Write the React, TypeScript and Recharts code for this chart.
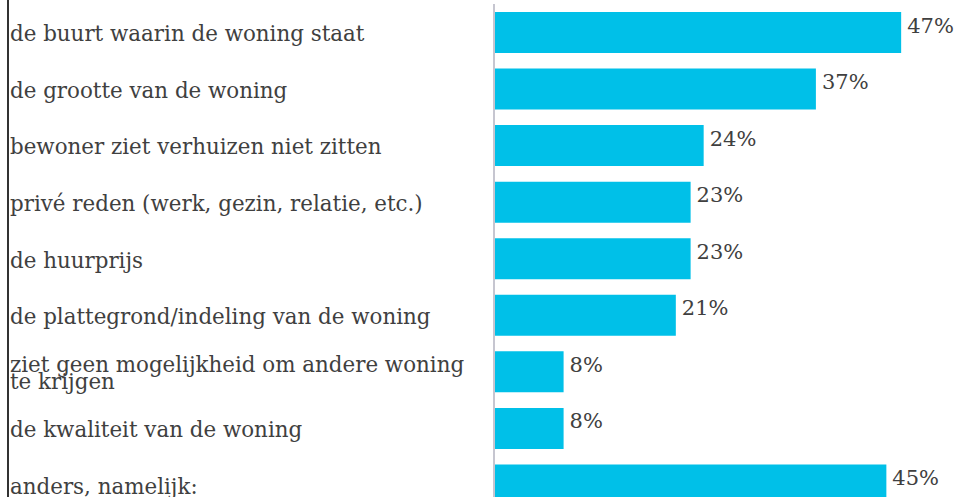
import React from "react";
import { BarChart, Bar, XAxis, YAxis, LabelList } from "recharts";

const BAR_COLOR = "#00c0e8";
const TEXT_COLOR = "#404040";
const FONT = "'DejaVu Serif', serif";

const categories = [
  "de buurt waarin de woning staat",
  "de grootte van de woning",
  "bewoner ziet verhuizen niet zitten",
  "privé reden (werk, gezin, relatie, etc.)",
  "de huurprijs",
  "de plattegrond/indeling van de woning",
  "ziet geen mogelijkheid om andere woning te krijgen",
  "de kwaliteit van de woning",
  "anders, namelijk:",
];

// percentages (labels show them rounded)
const shares = [46.8, 37, 24.1, 22.6, 22.6, 20.9, 8, 8, 45.1];

const data = categories.map((name, i) => ({ name, value: shares[i] }));

function wrapLabel(text: string, maxChars = 40) {
  const words = text.split(" ");
  const lines: string[] = [];
  let cur = "";
  for (const w of words) {
    const next = cur ? cur + " " + w : w;
    if (next.length > maxChars && cur) {
      lines.push(cur);
      cur = w;
    } else {
      cur = next;
    }
  }
  if (cur) lines.push(cur);
  return lines;
}

function CategoryTick(props: any) {
  const { y, payload } = props;
  const lines = wrapLabel(String(payload.value));
  const lh = 17;
  const first = y + 9 - ((lines.length - 1) * lh) / 2;
  return (
    <text
      x={10}
      y={first}
      fill={TEXT_COLOR}
      fontSize={21.4}
      fontFamily={FONT}
      textAnchor="start"
    >
      {lines.map((l, i) => (
        <tspan key={i} x={10} dy={i === 0 ? 0 : lh}>
          {l}
        </tspan>
      ))}
    </text>
  );
}

function ValueLabel(props: any) {
  const { x, y, width, height, value } = props;
  return (
    <text
      x={x + width + 6}
      y={y + height / 2}
      fill={TEXT_COLOR}
      fontSize={21}
      fontFamily={FONT}
      textAnchor="start"
    >
      {Math.round(value)}%
    </text>
  );
}

export default function App() {
  return (
    <div
      style={{
        position: "absolute",
        left: 0,
        top: 0,
        width: 957,
        height: 497,
        overflow: "hidden",
        background: "#fff",
      }}
    >
      <div
        style={{
          position: "absolute",
          left: 7,
          top: 0,
          width: 2,
          height: 497,
          background: "#333",
        }}
      />
      <BarChart
        width={957}
        height={513}
        data={data}
        layout="vertical"
        margin={{ top: 4, right: 28, bottom: 0, left: 0 }}
      >
        <XAxis type="number" domain={[0, 50]} hide />
        <YAxis
          type="category"
          dataKey="name"
          width={494}
          interval={0}
          tickLine={false}
          axisLine={{ stroke: "#c6c6d0", strokeWidth: 2 }}
          tick={<CategoryTick />}
        />
        <Bar
          dataKey="value"
          fill={BAR_COLOR}
          barSize={41}
          isAnimationActive={false}
        >
          <LabelList dataKey="value" content={<ValueLabel />} />
        </Bar>
      </BarChart>
    </div>
  );
}
